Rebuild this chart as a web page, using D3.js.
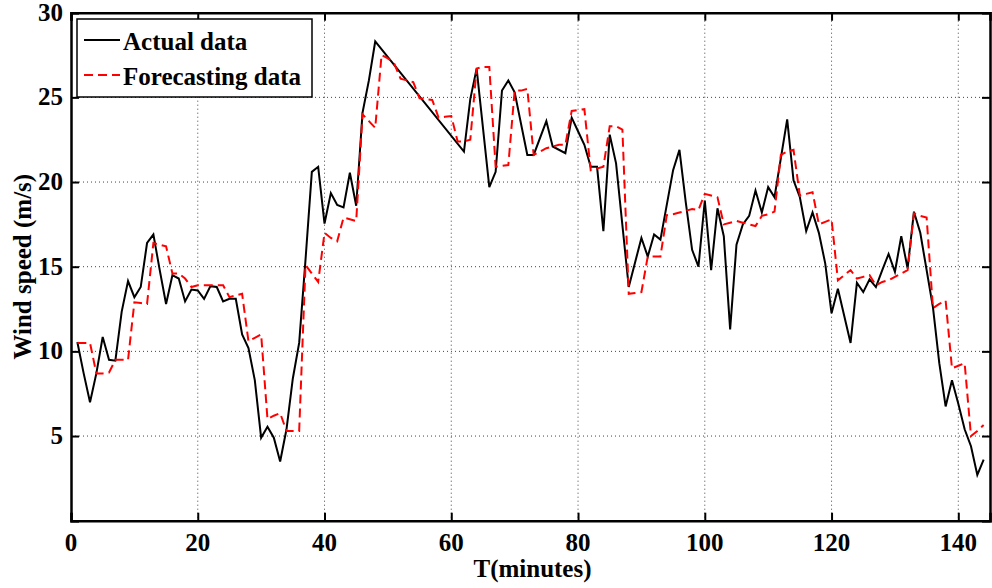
<!DOCTYPE html>
<html>
<head>
<meta charset="utf-8">
<script src="https://cdn.jsdelivr.net/npm/d3@7"></script>
<style>
  body { margin: 0; background: #fff; }
  svg { display: block; }
  text { font-family: "Liberation Serif", "Times New Roman", serif; font-weight: bold; fill: #000; }
</style>
</head>
<body>
<div id="chartArea"></div>
<script>
// ---------------- data ----------------
var actualT = [1,2,3,4,5,6,7,8,9,10,11,12,13,14,15,16,17,18,19,20,21,22,23,24,25,26,27,28,29,30,
  31,32,33,34,35,36,37,38,39,40,41,42,43,44,45,46,47,48,62,63,64,66,67,68,69,70,72,73,75,76,
  78,79,80,81,82,83,84,85,86,88,90,91,92,93,95,96,97,98,99,100,101,102,103,104,105,106,107,108,109,110,
  111,113,114,115,116,117,118,119,120,121,123,124,125,126,127,128,129,130,131,132,133,134,136,137,138,139,140,141,142,143,144];
var actualV = [10.55,8.7,7.0,8.7,10.85,9.5,9.45,12.35,14.15,13.2,13.8,16.4,16.9,14.8,12.8,14.5,14.3,12.95,13.65,13.6,13.1,13.85,13.8,12.95,13.1,13.1,11.0,10.2,8.3,4.9,
  5.55,4.9,3.5,5.4,8.4,10.5,15.4,20.6,20.9,17.55,19.35,18.65,18.5,20.55,18.6,24.1,26.0,28.3,21.8,24.9,26.7,19.7,20.6,25.4,26.0,25.3,21.6,21.6,23.6,22.1,
  21.7,23.8,23.0,22.2,20.9,20.9,17.1,22.8,21.1,13.8,16.7,15.6,16.9,16.6,20.7,21.9,18.8,16.0,15.0,18.9,14.8,18.45,16.8,11.3,16.3,17.5,18.0,19.5,18.2,19.7,
  19.1,23.7,20.1,19.1,17.1,18.2,17.0,15.2,12.25,13.7,10.5,14.05,13.5,14.25,13.8,14.8,15.75,14.7,16.8,14.9,18.25,17.0,12.6,9.3,6.75,8.3,6.9,5.4,4.4,2.7,3.6];

var forecastT = d3.range(1, 145);
var forecastV = [10.5,10.5,10.5,8.7,8.7,8.75,9.5,9.5,9.5,12.9,12.85,12.8,16.4,16.3,16.2,14.6,14.6,14.3,13.8,13.9,
  13.9,13.9,13.9,13.9,13.2,13.3,13.4,10.6,10.8,11.0,6.0,6.2,6.35,5.3,5.3,5.3,15.1,14.6,14.1,17.0,
  16.7,16.5,17.9,17.8,17.7,24.0,23.6,23.2,27.5,27.3,27.0,26.1,26.0,25.9,24.95,24.9,24.85,23.8,23.85,23.9,
  22.4,22.4,22.5,26.7,26.8,26.8,20.9,20.95,21.0,25.4,25.4,25.5,21.6,21.8,22.0,22.1,22.2,22.2,24.2,24.25,
  24.3,20.7,20.8,20.9,23.3,23.3,23.1,13.4,13.45,13.5,15.6,15.6,15.6,18.05,18.1,18.2,18.3,18.4,18.35,19.3,
  19.2,19.1,17.5,17.6,17.7,17.6,17.5,17.4,18.0,18.1,18.25,21.6,21.8,21.9,19.2,19.3,19.4,17.5,17.65,17.8,
  14.2,14.5,14.8,14.3,14.4,14.5,13.9,14.1,14.2,14.4,14.6,14.8,18.15,18.0,17.9,12.55,12.8,13.0,9.0,9.15,
  9.3,5.0,5.3,5.65];

var xTicks = [0, 20, 40, 60, 80, 100, 120, 140];
var yTicks = [0, 5, 10, 15, 20, 25, 30];
var yTickLabels = [5, 10, 15, 20, 25, 30];
var seriesNames = ["Actual data", "Forecasting data"];

// ---------------- layout ----------------
var W = 992, H = 588;
var margin = { left: 71, right: 990, top: 12.7, bottom: 520.7 };

var x = d3.scaleLinear().domain([0, 145]).range([margin.left, margin.right]);
var y = d3.scaleLinear().domain([0, 30]).range([margin.bottom, margin.top]);

var svg = d3.select("#chartArea").append("svg")
    .attr("width", W)
    .attr("height", H);

// grid
var grid = svg.append("g").attr("class", "grid");
grid.selectAll(".vgrid").data(xTicks.filter(function(d) { return d > 0; }))
    .enter().append("line")
    .attr("x1", function(d) { return x(d); })
    .attr("x2", function(d) { return x(d); })
    .attr("y1", margin.top).attr("y2", margin.bottom)
    .attr("stroke", "#444").attr("stroke-width", 1).attr("stroke-dasharray", "1,3");
grid.selectAll(".hgrid").data(yTicks.filter(function(d) { return d > 0 && d < 30; }))
    .enter().append("line")
    .attr("x1", margin.left).attr("x2", margin.right)
    .attr("y1", function(d) { return y(d); })
    .attr("y2", function(d) { return y(d); })
    .attr("stroke", "#444").attr("stroke-width", 1).attr("stroke-dasharray", "1,3");

// lines
var lineActual = d3.line()
    .x(function(d, i) { return x(actualT[i]); })
    .y(function(d) { return y(d); });
var lineForecast = d3.line()
    .x(function(d, i) { return x(forecastT[i]); })
    .y(function(d) { return y(d); });

svg.append("path")
    .datum(actualV)
    .attr("d", lineActual)
    .attr("fill", "none")
    .attr("stroke", "#000")
    .attr("stroke-width", 2)
    .attr("stroke-linejoin", "miter");

svg.append("path")
    .datum(forecastV)
    .attr("d", lineForecast)
    .attr("fill", "none")
    .attr("stroke", "#ff0000")
    .attr("stroke-width", 2)
    .attr("stroke-dasharray", "9,5");

// axes (inward ticks on all four sides)
var tl = 8;
svg.append("g").attr("transform", "translate(0," + margin.bottom + ")")
    .call(d3.axisBottom(x).tickValues(xTicks).tickSize(-tl).tickFormat(""));
svg.append("g").attr("transform", "translate(0," + margin.top + ")")
    .call(d3.axisTop(x).tickValues(xTicks).tickSize(-tl).tickFormat(""));
svg.append("g").attr("transform", "translate(" + margin.left + ",0)")
    .call(d3.axisLeft(y).tickValues(yTicks).tickSize(-tl).tickFormat(""));
svg.append("g").attr("transform", "translate(" + margin.right + ",0)")
    .call(d3.axisRight(y).tickValues(yTicks).tickSize(-tl).tickFormat(""));
svg.selectAll(".domain").attr("stroke", "#000").attr("stroke-width", 2.5);
svg.selectAll(".tick line").attr("stroke", "#000").attr("stroke-width", 2);

// tick labels
svg.selectAll(".xlab").data(xTicks).enter().append("text")
    .attr("x", function(d) { return x(d); })
    .attr("y", 551)
    .attr("text-anchor", "middle")
    .style("font-size", "25px")
    .text(function(d) { return d; });
svg.selectAll(".ylab").data(yTickLabels).enter().append("text")
    .attr("x", 63)
    .attr("y", function(d) { return y(d) + 8; })
    .attr("text-anchor", "end")
    .style("font-size", "25px")
    .text(function(d) { return d; });

// axis titles
svg.append("text")
    .attr("x", (margin.left + margin.right) / 2 + 2)
    .attr("y", 577)
    .attr("text-anchor", "middle")
    .style("font-size", "25px")
    .text("T(minutes)");
svg.append("text")
    .attr("transform", "translate(31," + ((margin.top + margin.bottom) / 2) + ") rotate(-90)")
    .attr("text-anchor", "middle")
    .style("font-size", "25px")
    .text("Wind speed (m/s)");

// legend
var lg = svg.append("g").attr("class", "legend");
lg.append("rect")
    .attr("x", 77).attr("y", 19).attr("width", 235).attr("height", 78)
    .attr("fill", "#fff").attr("stroke", "#000").attr("stroke-width", 1.5);
lg.selectAll(".lgline").data(seriesNames).enter().append("line")
    .attr("x1", 84).attr("x2", 120)
    .attr("y1", function(d, i) { return 40 + i * 35; })
    .attr("y2", function(d, i) { return 40 + i * 35; })
    .attr("stroke", function(d, i) { return i === 0 ? "#000" : "#ff0000"; })
    .attr("stroke-width", 2)
    .attr("stroke-dasharray", function(d, i) { return i === 0 ? null : "9,5"; });
lg.selectAll(".lgtext").data(seriesNames).enter().append("text")
    .attr("x", 123)
    .attr("y", function(d, i) { return 50 + i * 35; })
    .style("font-size", "25px")
    .text(function(d) { return d; });
</script>
</body>
</html>
